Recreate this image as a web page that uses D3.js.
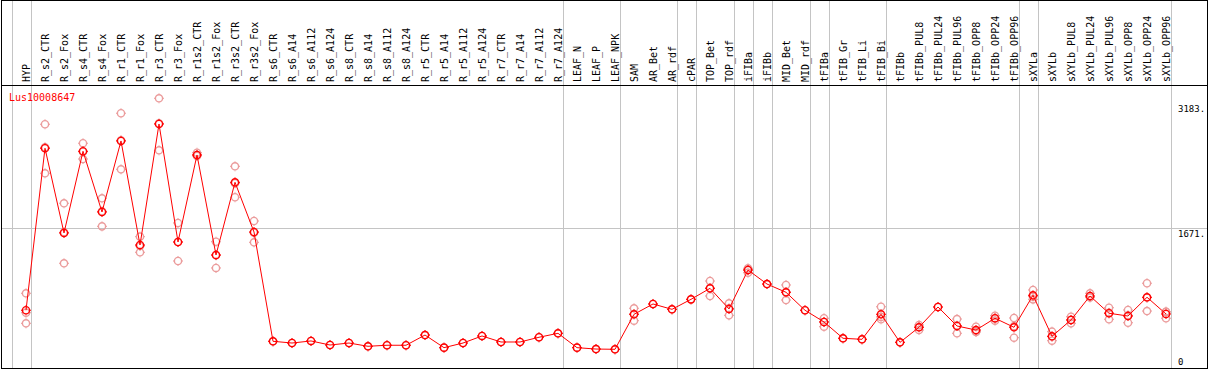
<!DOCTYPE html>
<html>
<head>
<meta charset="utf-8">
<script src="https://cdn.jsdelivr.net/npm/d3@7"></script>
<style>
  body { margin: 0; background: #fff; }
  text { font-family: "DejaVu Sans Mono", monospace; font-size: 10px; }
</style>
</head>
<body>
<div id="chart"></div>
<script>
const geneName = 'Lus10008647';

const samples = ['HYP', 'R_s2_CTR', 'R_s2_Fox', 'R_s4_CTR', 'R_s4_Fox', 'R_r1_CTR', 'R_r1_Fox',
  'R_r3_CTR', 'R_r3_Fox', 'R_r1s2_CTR', 'R_r1s2_Fox', 'R_r3s2_CTR', 'R_r3s2_Fox',
  'R_s6_CTR', 'R_s6_A14', 'R_s6_A112', 'R_s6_A124', 'R_s8_CTR', 'R_s8_A14', 'R_s8_A112', 'R_s8_A124',
  'R_r5_CTR', 'R_r5_A14', 'R_r5_A112', 'R_r5_A124', 'R_r7_CTR', 'R_r7_A14', 'R_r7_A112', 'R_r7_A124',
  'LEAF_N', 'LEAF_P', 'LEAF_NPK', 'SAM', 'AR_Bet', 'AR_rdf', 'cPAR', 'TOP_Bet', 'TOP_rdf',
  'iFIBa', 'iFIBb', 'MID_Bet', 'MID_rdf', 'tFIBa', 'tFIB_Gr', 'tFIB_Li', 'tFIB_Bi',
  'tFIBb', 'tFIBb_PUL8', 'tFIBb_PUL24', 'tFIBb_PUL96', 'tFIBb_OPP8', 'tFIBb_OPP24', 'tFIBb_OPP96',
  'sXYLa', 'sXYLb', 'sXYLb_PUL8', 'sXYLb_PUL24', 'sXYLb_PUL96', 'sXYLb_OPP8', 'sXYLb_OPP24', 'sXYLb_OPP96'];

// mean expression per sample
const means = [718, 2602, 1617, 2567, 1861, 2687, 1477, 2884, 1512, 2524, 1361, 2206, 1628,
  357, 337, 361, 314, 337, 299, 311, 311, 430, 283, 337, 419, 349, 349, 404, 450,
  283, 267, 264, 671, 791, 729, 845, 973, 733, 1186, 1023, 927, 718, 582, 392, 380, 671,
  345, 520, 756, 535, 488, 625, 520, 892, 415, 605, 884, 683, 651, 869, 675];

// replicate values per sample
const replicates = [[915, 690, 566], [2881, 2311, 2613], [1962, 1264, 1624], [2660, 2477, 2562],
  [2020, 1694, 1869], [3009, 2357, 2695], [1574, 1392, 1465], [3183, 2578, 2891],
  [1733, 1291, 1512], [2550, 2512, 2524], [1515, 1210, 1357], [2392, 2032, 2195], [1756, 1508, 1620],
  [357], [337], [361], [314], [337], [299], [311], [311], [430], [283], [337], [419],
  [349], [349], [404], [450], [283], [267], [264],
  [741, 597, 675], [791], [729], [845], [1058, 884, 977], [799, 659, 740],
  [1206, 1155, 1186], [1023], [1012, 837, 930], [718], [625, 527, 582], [392], [380], [759, 613, 641],
  [345], [547, 488, 523], [756], [616, 450, 539], [527, 465, 472], [655, 597, 623], [628, 399, 533],
  [954, 845, 877], [469, 364, 412], [643, 566, 606], [915, 869, 868], [748, 613, 688],
  [721, 573, 659], [1032, 709, 866], [701, 625, 699]];

// samples followed by a group separator
const groupEnds = ['HYP', 'R_r7_A124', 'LEAF_NPK', 'AR_rdf', 'cPAR', 'TOP_rdf', 'iFIBa', 'iFIBb',
  'MID_rdf', 'tFIBa', 'tFIB_Bi', 'tFIBb_OPP96', 'sXYLa', 'sXYLb_OPP96'];

const axisTicks = [0, 1671, 3183];

const width = 1209, height = 370;
const frame = {left: 1.5, right: 1207.5, top: 0.5, bottom: 368.5, header: 85.5};

const svg = d3.select('#chart').append('svg')
  .attr('width', width)
  .attr('height', height);

const x = d3.scalePoint().domain(samples).range([26, 1166]);
const step = x.step();
const y = d3.scaleLinear().domain([0, 3183]).range([372, 98.3]);

// vertical separators
const sepX = [x(samples[0]) - step + 4.5].concat(groupEnds.map(s => x(s) + 4.5));
svg.append('g').selectAll('line')
  .data(sepX)
  .enter().append('line')
  .attr('x1', d => Math.round(d) + 0.5).attr('x2', d => Math.round(d) + 0.5)
  .attr('y1', frame.top).attr('y2', frame.bottom)
  .attr('stroke', '#c4c4c4');

// horizontal reference line
svg.append('line')
  .attr('x1', frame.left).attr('x2', frame.right)
  .attr('y1', Math.round(y(1671)) + 0.5).attr('y2', Math.round(y(1671)) + 0.5)
  .attr('stroke', '#c4c4c4');

// frame
svg.append('rect')
  .attr('x', frame.left).attr('y', frame.top)
  .attr('width', frame.right - frame.left).attr('height', frame.bottom - frame.top)
  .attr('fill', 'none').attr('stroke', '#000');
svg.append('line')
  .attr('x1', frame.left).attr('x2', frame.right)
  .attr('y1', frame.header).attr('y2', frame.header)
  .attr('stroke', '#000');

// column labels
svg.append('g').selectAll('text')
  .data(samples)
  .enter().append('text')
  .attr('transform', d => `translate(${x(d) + 3.5}, 82) rotate(-90)`)
  .text(d => d);

// value labels on the right
svg.append('g').selectAll('text')
  .data(axisTicks)
  .enter().append('text')
  .attr('x', 1178)
  .attr('y', d => Math.max(Math.min(y(d) + 9, 365), 112))
  .style('font-size', '9px')
  .text(d => d === 0 ? '0' : d + '.');

svg.append('text')
  .attr('x', 9).attr('y', 101)
  .attr('fill', '#f00')
  .text(geneName);

function marker(g, color) {
  g.append('circle').attr('r', 3.6).attr('fill', 'none').attr('stroke', color).attr('stroke-width', 1.4);
  [[0, -4, 0, -5], [0, 4, 0, 5], [-4, 0, -5, 0], [4, 0, 5, 0]].forEach(t => {
    g.append('line').attr('x1', t[0]).attr('y1', t[1]).attr('x2', t[2]).attr('y2', t[3])
      .attr('stroke', color).attr('stroke-width', 1);
  });
}

// replicate points
const repData = [];
replicates.forEach((r, i) => r.forEach(v => repData.push({name: samples[i], value: v})));
svg.append('g').selectAll('g')
  .data(repData)
  .enter().append('g')
  .attr('transform', d => `translate(${x(d.name)}, ${y(d.value)})`)
  .each(function() { marker(d3.select(this), '#eb9c9c'); });

// mean line
const meanData = samples.map((s, i) => ({name: s, value: means[i]}));
svg.append('path')
  .datum(meanData)
  .attr('fill', 'none')
  .attr('stroke', '#f00')
  .attr('stroke-width', 1)
  .attr('d', d3.line().x(d => x(d.name)).y(d => y(d.value)));

svg.append('g').selectAll('g')
  .data(meanData)
  .enter().append('g')
  .attr('transform', d => `translate(${x(d.name)}, ${y(d.value)})`)
  .each(function() { marker(d3.select(this), '#f00'); });
</script>
</body>
</html>
